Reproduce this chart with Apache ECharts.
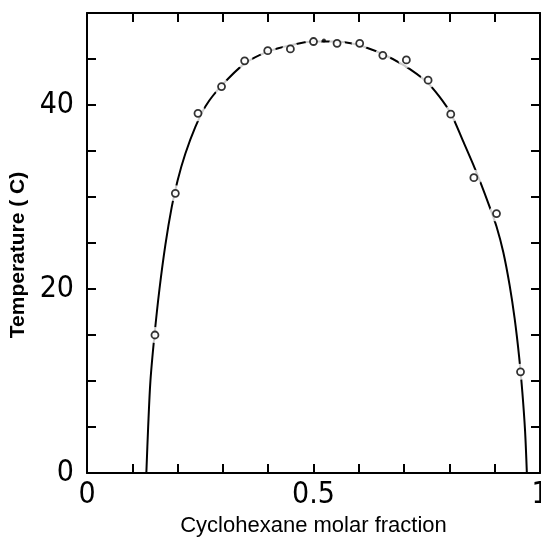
<!DOCTYPE html>
<html lang="en">
<head>
    <meta charset="UTF-8">
    <title>Cyclohexane coexistence curve</title>
    <script src="https://cdn.jsdelivr.net/npm/echarts@6/dist/echarts.min.js"></script>
    <style>
        html, body { margin: 0; padding: 0; background: #fff; }
        #chart { width: 541px; height: 540px; }
    </style>
</head>
<body>
<div id="chart"></div>
<script>
    // measured points (open circles)
    var pointX = [0.150, 0.195, 0.245, 0.297, 0.348, 0.399, 0.449, 0.500, 0.552, 0.602, 0.653, 0.705, 0.753, 0.803, 0.854, 0.904, 0.957];
    var pointY = [15.0, 30.4, 39.1, 42.0, 44.8, 45.9, 46.1, 46.9, 46.7, 46.7, 45.4, 44.9, 42.7, 39.0, 32.1, 28.2, 11.0];
    // critical point (small filled dot)
    var criticalX = [0.523];
    var criticalY = [47.0];
    // drawn coexistence curve
    var curveX = [0.131, 0.135, 0.140, 0.149, 0.160, 0.173, 0.187, 0.200, 0.217, 0.239, 0.262, 0.297, 0.348, 0.399, 0.449, 0.500, 0.550, 0.600, 0.650, 0.700, 0.750, 0.778, 0.804, 0.830, 0.852, 0.870, 0.889, 0.904, 0.919, 0.933, 0.944, 0.954, 0.961, 0.967, 0.971];
    var curveY = [0, 5, 10, 15, 20, 24.8, 28.9, 31.8, 34.7, 37.6, 39.9, 42.1, 44.5, 45.8, 46.5, 46.9, 46.9, 46.5, 45.6, 44.3, 42.5, 40.9, 39.0, 36.1, 33.6, 31.4, 28.9, 26.8, 24.0, 20.4, 16.8, 12.6, 8.8, 4.6, 0];
    var xLabels = [0, 0.5, 1];
    var yLabels = [0, 20, 40];

    function zip(xs, ys) {
        var out = [];
        for (var i = 0; i < xs.length; ++i) {
            out.push([xs[i], ys[i]]);
        }
        return out;
    }

    function near(v, list) {
        for (var i = 0; i < list.length; ++i) {
            if (Math.abs(v - list[i]) < 1e-6) return true;
        }
        return false;
    }

    var numFont = '"Liberation Sans Narrow", "DejaVu Sans Condensed", sans-serif';
    var axisLine = {show: true, onZero: false, lineStyle: {color: '#000', width: 2}};
    var tick = {show: true, inside: true, length: 9, lineStyle: {color: '#000', width: 2}};

    var chart = echarts.init(document.getElementById('chart'));
    chart.setOption({
        backgroundColor: '#fff',
        animation: false,
        grid: {left: 87, right: 1, top: 13, bottom: 67, outerBoundsMode: 'none', containLabel: false},
        xAxis: [{
            type: 'value',
            min: 0, max: 1, interval: 0.1,
            position: 'bottom',
            axisLine: axisLine,
            axisTick: tick,
            splitLine: {show: false},
            axisLabel: {
                color: '#000', fontFamily: numFont, fontSize: 30, margin: 7,
                showMaxLabel: true,
                formatter: function (v) {
                    return near(v, xLabels) ? String(v) : '';
                }
            },
            name: 'Cyclohexane molar fraction',
            nameLocation: 'middle',
            nameGap: 42,
            nameTextStyle: {color: '#000', fontFamily: '"Liberation Sans", Arial, sans-serif', fontSize: 22}
        }, {
            type: 'value',
            min: 0, max: 1, interval: 0.1,
            position: 'top',
            axisLine: axisLine,
            axisTick: tick,
            splitLine: {show: false},
            axisLabel: {show: false}
        }],
        yAxis: [{
            type: 'value',
            min: 0, max: 50, interval: 5,
            position: 'left',
            axisLine: axisLine,
            axisTick: tick,
            splitLine: {show: false},
            axisLabel: {
                color: '#000', fontFamily: numFont, fontSize: 30, margin: 13,
                formatter: function (v) {
                    return near(v, yLabels) ? String(v) : '';
                }
            },
            name: 'Temperature ( C)',
            nameLocation: 'middle',
            nameGap: 56,
            nameTextStyle: {
                color: '#000', fontFamily: '"Liberation Sans", Arial, sans-serif',
                fontSize: 21, fontWeight: 'bold', padding: [0, 24, 0, 0]
            }
        }, {
            type: 'value',
            min: 0, max: 50, interval: 5,
            position: 'right',
            axisLine: axisLine,
            axisTick: tick,
            splitLine: {show: false},
            axisLabel: {show: false}
        }],
        series: [
            {
                name: 'curve',
                type: 'line',
                data: zip(curveX, curveY),
                smooth: 0.3,
                symbol: 'none',
                lineStyle: {color: '#000', width: 2},
                z: 2
            },
            {
                name: 'gap',
                type: 'scatter',
                data: zip(pointX, pointY),
                symbol: 'circle',
                symbolSize: 16,
                itemStyle: {color: '#fff'},
                silent: true,
                z: 3
            },
            {
                name: 'points',
                type: 'scatter',
                data: zip(pointX, pointY),
                symbol: 'circle',
                symbolSize: 7,
                itemStyle: {color: '#fff', borderColor: '#000', borderWidth: 1.8},
                z: 4
            },
            {
                name: 'critical',
                type: 'scatter',
                data: zip(criticalX, criticalY),
                symbol: 'circle',
                symbolSize: 4,
                itemStyle: {color: '#000'},
                z: 4
            }
        ]
    });
</script>
</body>
</html>
